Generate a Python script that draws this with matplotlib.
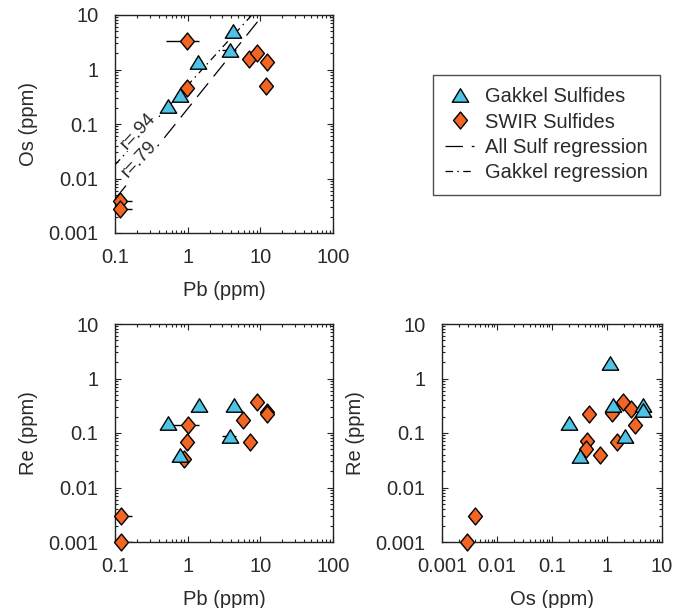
import numpy as np
import matplotlib
matplotlib.use("Agg")
import matplotlib.pyplot as plt
from matplotlib.path import Path
from matplotlib.ticker import FixedLocator, NullFormatter, LogLocator

plt.rcParams['font.family'] = ['Liberation Sans', 'DejaVu Sans']

# ---------------- data ----------------
# Panel A: Os vs Pb
gak_pb_a = [4.27, 3.8, 1.4, 0.79, 0.54]
gak_os_a = [5.0, 2.28, 1.39, 0.34, 0.21]
gak_pb_a_err = [0, 0.85, 0, 0, 0]
swir_pb_a = [0.97, 7.0, 8.9, 12.2, 12.0, 0.97, 0.117, 0.117]
swir_os_a = [3.3, 1.55, 2.0, 1.35, 0.5, 0.45, 0.0038, 0.0028]
swir_pb_a_err = [0.46, 0, 0, 0, 0, 0, 0.052, 0.055]

# regressions (log10 Os = slope * log10 Pb + intercept)
gak_reg = (1.46, -0.29)     # dash-dot, r=.94
all_reg = (1.66, -0.72)     # dashed, r=.79
reg_labels = ["r=.94", "r=.79"]

# Panel B: Re vs Pb
gak_pb_b = [1.45, 4.4, 0.53, 3.8, 0.78]
gak_re_b = [0.33, 0.33, 0.15, 0.088, 0.039]
gak_pb_b_err = [0, 0, 0, 0.85, 0]
swir_pb_b = [8.9, 12.2, 12.4, 5.8, 1.02, 0.98, 7.2, 0.9, 0.12, 0.12]
swir_re_b = [0.37, 0.24, 0.22, 0.17, 0.14, 0.067, 0.067, 0.034, 0.003, 0.001]
swir_pb_b_err = [0, 0, 0, 0, 0.4, 0, 0, 0, 0.05, 0.057]

# Panel C: Re vs Os
gak_os_c = [1.15, 1.3, 4.5, 4.6, 0.2, 2.1, 0.32]
gak_re_c = [1.9, 0.33, 0.33, 0.26, 0.15, 0.088, 0.038]
swir_os_c = [1.95, 2.7, 1.25, 0.48, 3.2, 0.44, 0.42, 1.5, 0.75, 0.004, 0.0029]
swir_re_c = [0.37, 0.27, 0.23, 0.22, 0.14, 0.07, 0.05, 0.068, 0.039, 0.003, 0.001]

pb_ticks = [0.1, 1, 10, 100]
pb_labels = ["0.1", "1", "10", "100"]
os_ticks_x = [0.001, 0.01, 0.1, 1, 10]
os_labels_x = ["0.001", "0.01", "0.1", "1", "10"]
y_ticks = [0.001, 0.01, 0.1, 1, 10]
y_labels = ["0.001", "0.01", "0.1", "1", "10"]

legend_labels = ["Gakkel Sulfides", "SWIR Sulfides", "All Sulf regression", "Gakkel regression"]

# ---------------- style ----------------
blue = "#4EC3E6"
orange = "#F26522"
txt = "#2a2a2a"
fs = 14.5

tri = Path([(0, 0.82), (1, -0.82), (-1, -0.82), (0, 0.82)],
           [Path.MOVETO, Path.LINETO, Path.LINETO, Path.CLOSEPOLY])
dia = Path([(0, 1), (0.82, 0), (0, -1), (-0.82, 0), (0, 1)],
           [Path.MOVETO, Path.LINETO, Path.LINETO, Path.LINETO, Path.CLOSEPOLY])
tri_ms = 11.8
dia_ms = 12.2

W, H = 683, 608
fig = plt.figure(figsize=(W / 100, H / 100), dpi=100)


def make_ax(l, t, r, b):
    return fig.add_axes([l / W, 1 - b / H, (r - l) / W, (b - t) / H])


def style(ax, xt, xl, yt, yl, xlab, ylab):
    ax.set_xscale('log')
    ax.set_yscale('log')
    ax.set_xlim(xt[0], xt[-1])
    ax.set_ylim(yt[0], yt[-1])
    ax.xaxis.set_major_locator(FixedLocator(xt))
    ax.yaxis.set_major_locator(FixedLocator(yt))
    ax.set_xticklabels(xl)
    ax.set_yticklabels(yl)
    ax.xaxis.set_minor_locator(LogLocator(base=10, subs=np.arange(2, 10), numticks=20))
    ax.yaxis.set_minor_locator(LogLocator(base=10, subs=np.arange(2, 10), numticks=20))
    ax.xaxis.set_minor_formatter(NullFormatter())
    ax.yaxis.set_minor_formatter(NullFormatter())
    ax.tick_params(which='both', direction='in', top=True, right=True,
                   colors='#222222', labelcolor=txt, labelsize=fs, width=0.8)
    ax.tick_params(which='major', length=4)
    ax.tick_params(which='minor', length=2.2)
    ax.tick_params(axis='x', which='major', pad=11)
    ax.tick_params(axis='y', which='major', pad=12)
    for s in ax.spines.values():
        s.set_linewidth(1.0)
        s.set_color('#222222')
    ax.set_xlabel(xlab, fontsize=fs, color=txt, labelpad=10)
    ax.set_ylabel(ylab, fontsize=fs, color=txt, labelpad=7)


def points(ax, x, y, xerr, marker, ms, color, z):
    x = np.asarray(x); y = np.asarray(y)
    if xerr is not None:
        e = np.asarray(xerr)
        m = e > 0
        ax.errorbar(x[m], y[m], xerr=e[m], fmt='none', ecolor='black',
                    elinewidth=1.0, capsize=0, zorder=z - 1)
    ax.plot(x, y, linestyle='none', marker=marker, markersize=ms,
            markerfacecolor=color, markeredgecolor='black', markeredgewidth=1.0,
            zorder=z, clip_on=False)


# Panel A
axA = make_ax(115, 15, 333, 233)
style(axA, pb_ticks, pb_labels, y_ticks, y_labels, "Pb (ppm)", "Os (ppm)")
xr = np.logspace(-1, 2, 200)
axA.plot(xr, 10 ** (gak_reg[0] * np.log10(xr) + gak_reg[1]), color='black', lw=0.9,
         dashes=(6, 3.5, 1.2, 3.5), zorder=2)
axA.plot(xr, 10 ** (all_reg[0] * np.log10(xr) + all_reg[1]), color='black', lw=0.9,
         dashes=(14, 7), zorder=2)
for (tx, ty), lab in zip([(0.207, 0.0745), (0.214, 0.0228)], reg_labels):
    axA.text(tx, ty, lab, rotation=47, fontsize=fs - 1, color=txt,
             ha='center', va='center', zorder=3,
             bbox=dict(facecolor='white', edgecolor='none', pad=0.3))
points(axA, swir_pb_a, swir_os_a, swir_pb_a_err, dia, dia_ms, orange, 4)
points(axA, gak_pb_a, gak_os_a, gak_pb_a_err, tri, tri_ms, blue, 6)

# Panel B
axB = make_ax(115, 324, 333, 542)
style(axB, pb_ticks, pb_labels, y_ticks, y_labels, "Pb (ppm)", "Re (ppm)")
points(axB, swir_pb_b, swir_re_b, swir_pb_b_err, dia, dia_ms, orange, 4)
points(axB, gak_pb_b, gak_re_b, gak_pb_b_err, tri, tri_ms, blue, 6)

# Panel C
axC = make_ax(442, 324, 662, 542)
style(axC, os_ticks_x, os_labels_x, y_ticks, y_labels, "Os (ppm)", "Re (ppm)")
points(axC, swir_os_c, swir_re_c, None, dia, dia_ms, orange, 4)
points(axC, gak_os_c, gak_re_c, None, tri, tri_ms, blue, 6)

# Legend
h1 = plt.Line2D([], [], linestyle='none', marker=tri, markersize=tri_ms,
                markerfacecolor=blue, markeredgecolor='black', markeredgewidth=1.0)
h2 = plt.Line2D([], [], linestyle='none', marker=dia, markersize=dia_ms,
                markerfacecolor=orange, markeredgecolor='black', markeredgewidth=1.0)
h3 = plt.Line2D([], [], color='black', lw=0.9, dashes=(14, 7))
h4 = plt.Line2D([], [], color='black', lw=0.9, dashes=(6, 3.5, 1.2, 3.5))
leg = fig.legend([h1, h2, h3, h4], legend_labels, loc='upper left',
                 bbox_to_anchor=(433 / W, 1 - 75 / H), borderaxespad=0,
                 fontsize=fs, frameon=True, fancybox=False, handlelength=1.45,
                 handletextpad=0.55, labelspacing=0.32, borderpad=0.6)
leg.get_frame().set_edgecolor('#222222')
leg.get_frame().set_linewidth(1.0)
for t in leg.get_texts():
    t.set_color(txt)

fig.savefig("out.png", dpi=100)
